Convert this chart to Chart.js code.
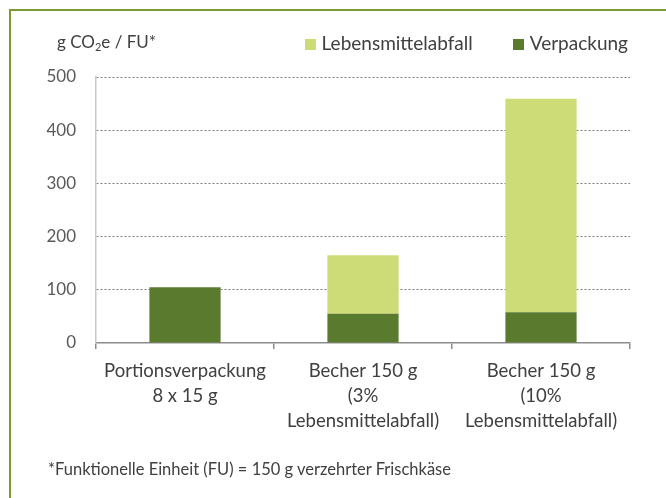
<!DOCTYPE html>
<html>
<head>
<meta charset="utf-8">
<script src="https://cdn.jsdelivr.net/npm/chart.js@4/dist/chart.umd.min.js"></script>
<style>
  body { margin: 0; background: #fff; font-family: Lato, sans-serif; color: #404040; }
  #wrap { position: relative; width: 666px; height: 498px; overflow: hidden; }
  #frame { position: absolute; left: 9px; top: 9px; right: -10px; bottom: -10px;
           border-top: 2px solid #7b9a30; border-left: 2px solid #7b9a30; }
  #unit { position: absolute; left: 57px; top: 31px; font-size: 17px; }
  #unit sub { font-size: 11px; vertical-align: -3px; line-height: 0; }
  #legend { position: absolute; right: 38px; top: 31px; font-size: 19px; display: flex; gap: 40px; }
  #legend span.box { display: inline-block; width: 11px; height: 11px; margin-right: 6px; }
  #note { position: absolute; left: 48px; top: 459px; font-size: 16.5px; }
  canvas { position: absolute; left: 0; top: 0; }
</style>
</head>
<body>
<div id="wrap">
  <div id="frame"></div>
  <canvas id="chart" width="666" height="498"></canvas>
  <div id="unit">g CO<sub>2</sub>e / FU*</div>
  <div id="legend"></div>
  <div id="note">*Funktionelle Einheit (FU) = 150 g verzehrter Frischkäse</div>
</div>
<script>
const categories = [
  ['Portionsverpackung', '8 x 15 g'],
  ['Becher 150 g', '(3%', 'Lebensmittelabfall)'],
  ['Becher 150 g', '(10%', 'Lebensmittelabfall)']
];
const verpackung = [105, 55, 58];
const lebensmittelabfall = [0, 110, 401];
const yTicks = [0, 100, 200, 300, 400, 500];

const darkGreen = '#5a7a2e';
const lightGreen = '#cddc77';

const ctx = document.getElementById('chart');

const chart = new Chart(ctx, {
  type: 'bar',
  data: {
    labels: categories,
    datasets: [{
      label: 'Verpackung',
      data: verpackung,
      backgroundColor: darkGreen,
      barPercentage: 0.4,
      categoryPercentage: 1
    }, {
      label: 'Lebensmittelabfall',
      data: lebensmittelabfall,
      backgroundColor: lightGreen,
      barPercentage: 0.4,
      categoryPercentage: 1
    }]
  },
  options: {
    responsive: false,
    animation: false,
    layout: {
      padding: { top: 77, right: 36, left: 0, bottom: 0 }
    },
    plugins: {
      legend: { display: false },
      tooltip: { enabled: false }
    },
    scales: {
      x: {
        stacked: true,
        afterFit: function(scale) { scale.height = 155; },
        border: { color: '#8c8c8c', width: 1.5 },
        grid: {
          offset: true,
          drawOnChartArea: false,
          tickLength: 6,
          color: '#8c8c8c',
          lineWidth: 1.5
        },
        ticks: {
          color: '#404040',
          padding: 10,
          font: { family: 'Lato', size: 18.5, lineHeight: '25px' },
          maxRotation: 0,
          autoSkip: false
        }
      },
      y: {
        stacked: true,
        min: 0,
        max: 500,
        afterFit: function(scale) { scale.width = 96; },
        afterBuildTicks: function(scale) {
          scale.ticks = yTicks.map(function(v) { return { value: v }; });
        },
        // in v4 border.dash styles the grid lines, the axis line stays solid
        border: { color: '#c8c8c8', width: 1.5, dash: [2, 2] },
        grid: {
          drawTicks: false,
          color: function(c) { return c.tick.value === 0 ? 'rgba(0,0,0,0)' : '#7a7a7a'; },
          lineWidth: 1
        },
        ticks: {
          color: '#595959',
          padding: 20,
          font: { family: 'Lato', size: 17 }
        }
      }
    }
  }
});

// legend built from datasets, in the reference order
const legend = document.getElementById('legend');
chart.data.datasets.slice().reverse().forEach(function(ds) {
  const item = document.createElement('div');
  item.innerHTML = '<span class="box" style="background:' + ds.backgroundColor + '"></span>' + ds.label;
  legend.appendChild(item);
});
</script>
</body>
</html>
